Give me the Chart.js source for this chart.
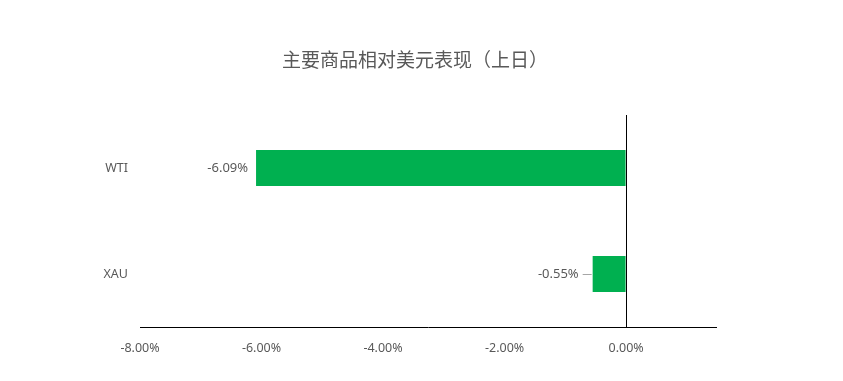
<!DOCTYPE html>
<html>
<head>
<meta charset="utf-8">
<script src="https://cdn.jsdelivr.net/npm/chart.js@4/dist/chart.umd.min.js"></script>
<style>
  html, body { margin: 0; padding: 0; background: #fff; }
  #wrap { width: 843px; height: 381px; }
</style>
</head>
<body>
<div id="wrap"><canvas id="chart"></canvas></div>
<script>
"use strict";

const TITLE = "主要商品相对美元表现（上日）";
const categories = ["WTI", "XAU"];
const changes = [-6.09, -0.55];
const xTicks = [-8, -6, -4, -2, 0];

const TEXT = "#595959";
const FONT = "'Noto Sans', 'Noto Sans CJK SC', sans-serif";

// title and value labels drawn by hand
const decor = {
    id: "decor",
    afterDatasetsDraw(chart) {
        const ctx = chart.ctx;
        ctx.save();
        ctx.fillStyle = TEXT;
        ctx.font = "19px " + FONT;
        ctx.textAlign = "center";
        ctx.textBaseline = "middle";
        ctx.fillText(TITLE, 415, 62);

        ctx.font = "13px " + FONT;
        ctx.textAlign = "right";
        const meta = chart.getDatasetMeta(0);
        meta.data.forEach(function (bar, i) {
            const label = changes[i].toFixed(2) + "%";
            const left = Math.min(bar.x, bar.base);
            const width = Math.abs(bar.x - bar.base);
            if (width < 60) {
                // short bar: leader line to the label
                ctx.strokeStyle = "#a6a6a6";
                ctx.lineWidth = 1;
                ctx.beginPath();
                ctx.moveTo(left - 1, bar.y + 0.5);
                ctx.lineTo(left - 10, bar.y + 0.5);
                ctx.stroke();
                ctx.fillText(label, left - 14, bar.y);
            } else {
                ctx.fillText(label, left - 8, bar.y);
            }
        });
        ctx.restore();
    }
};

new Chart(document.getElementById("chart"), {
    type: "bar",
    data: {
        labels: categories,
        datasets: [{
            data: changes,
            backgroundColor: "#00b050",
            borderWidth: 0,
            categoryPercentage: 1,
            barPercentage: 0.34
        }]
    },
    options: {
        indexAxis: "y",
        responsive: true,
        maintainAspectRatio: false,
        animation: false,
        layout: { padding: { top: 115, right: 127, bottom: 0, left: 0 } },
        plugins: {
            legend: { display: false },
            tooltip: { enabled: false }
        },
        scales: {
            x: {
                min: -8,
                max: 1.48,
                afterBuildTicks(axis) {
                    axis.ticks = xTicks.map(v => ({ value: v }));
                },
                afterFit(axis) { axis.height = 54; },
                border: { display: true, color: "#000", width: 1 },
                grid: {
                    drawTicks: false,
                    color: ctx => (ctx.tick && ctx.tick.value === 0) ? "#000" : "rgba(0,0,0,0)",
                    lineWidth: 1
                },
                ticks: {
                    color: TEXT,
                    font: { family: FONT, size: 12.5 },
                    padding: 14,
                    callback: v => Number(v).toFixed(2) + "%"
                }
            },
            y: {
                afterFit(axis) { axis.width = 140; },
                border: { display: false },
                grid: { display: false, drawTicks: false },
                ticks: {
                    color: TEXT,
                    font: { family: FONT, size: 12.5 },
                    padding: 12
                }
            }
        }
    },
    plugins: [decor]
});
</script>
</body>
</html>
